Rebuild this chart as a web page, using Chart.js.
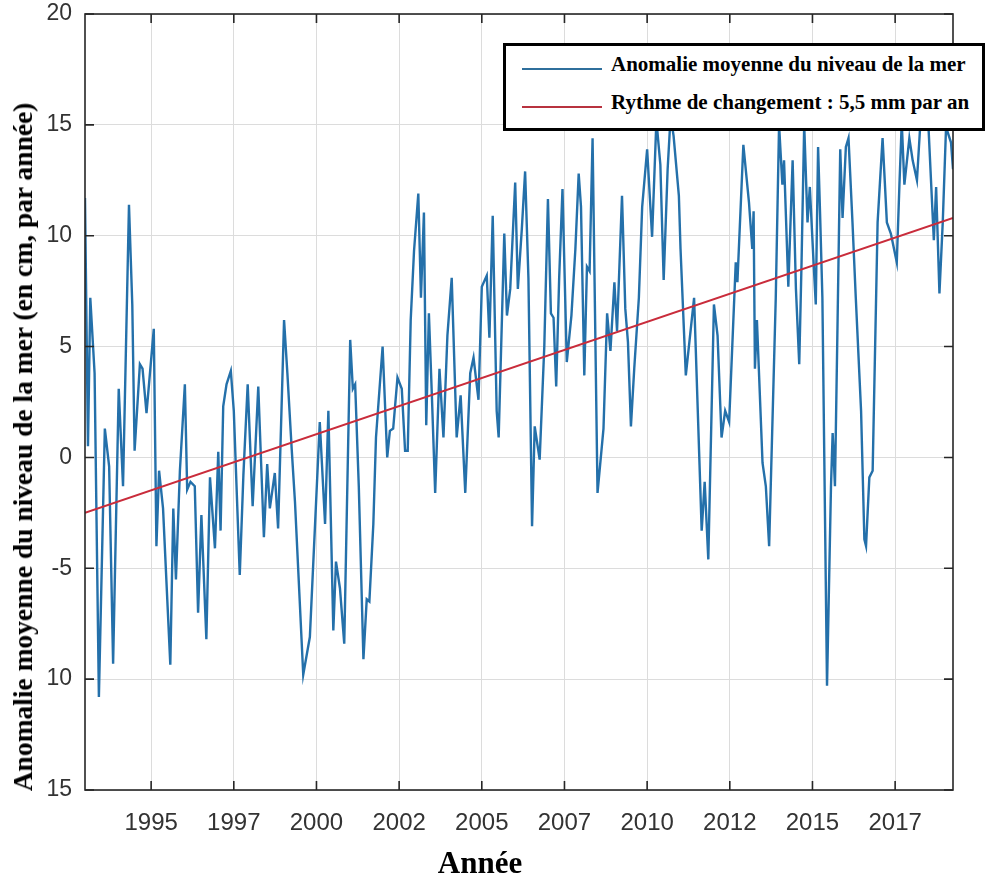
<!DOCTYPE html>
<html>
<head>
<meta charset="utf-8">
<script src="https://cdn.jsdelivr.net/npm/chart.js@4.4.1/dist/chart.umd.min.js"></script>
<style>
  body { margin: 0; background: #fff; }
  #wrap { position: relative; width: 988px; height: 880px; }
  canvas { position: absolute; left: 0; top: 0; }
  .serif { font-family: 'Liberation Serif', 'Times New Roman', serif; font-weight: bold; color: #000; white-space: nowrap; position: absolute; }
  #legendBox { position: absolute; left: 503px; top: 43px; width: 482px; height: 88px; border: 3px solid #000; background: #fff; box-sizing: border-box; }
  .sample { position: absolute; height: 2px; width: 80px; left: 522px; }
</style>
</head>
<body>
<div id="wrap">
  <canvas id="chart" width="988" height="880"></canvas>
  <div id="legendBox"></div>
  <div class="sample" style="top:68px; background:#2f6f9c;"></div>
  <div class="sample" style="top:106px; background:#b8323f;"></div>
  <div class="serif" id="leg1" style="left:611px; top:54px; font-size:21px; line-height:21px;">Anomalie moyenne du niveau de la mer</div>
  <div class="serif" id="leg2" style="left:611px; top:92px; font-size:21px; line-height:21px;">Rythme de changement : 5,5 mm par an</div>
  <div class="serif" id="ytitle" style="left:23px; top:447px; font-size:27.5px; line-height:30px; transform: translate(-50%, -50%) rotate(-90deg);">Anomalie moyenne du niveau de la mer (en cm, par année)</div>
  <div class="serif" id="xtitle" style="left:480px; top:847px; font-size:31px; line-height:31px; transform: translateX(-50%);">Année</div>
</div>
<script>
// values (year, cm)
const years = [
  1993.0, 1993.09, 1993.16, 1993.29, 1993.42, 1993.6, 1993.73, 1993.85, 1994.02, 1994.15,
  1994.33, 1994.43, 1994.5, 1994.66, 1994.74, 1994.86, 1995.08, 1995.16, 1995.24, 1995.36,
  1995.58, 1995.67, 1995.75, 1995.87, 1996.02, 1996.09, 1996.19, 1996.32, 1996.42, 1996.52,
  1996.67, 1996.78, 1996.93, 1997.03, 1997.1, 1997.18, 1997.28, 1997.41, 1997.5, 1997.68,
  1997.79, 1997.92, 1998.07, 1998.24, 1998.41, 1998.51, 1998.59, 1998.74, 1998.84, 1999.02,
  1999.12, 1999.25, 1999.35, 1999.6, 1999.8, 2000.1, 2000.26, 2000.36, 2000.51, 2000.59,
  2000.71, 2000.84, 2001.02, 2001.1, 2001.17, 2001.28, 2001.42, 2001.52, 2001.6, 2001.72,
  2001.8, 2002.0, 2002.14, 2002.22, 2002.32, 2002.45, 2002.58, 2002.68, 2002.76, 2002.85,
  2002.95, 2003.08, 2003.16, 2003.25, 2003.32, 2003.4, 2003.49, 2003.59, 2003.72, 2003.84,
  2003.96, 2004.09, 2004.24, 2004.36, 2004.5, 2004.65, 2004.75, 2004.9, 2005.0, 2005.15,
  2005.23, 2005.33, 2005.45, 2005.51, 2005.68, 2005.76, 2005.86, 2006.01, 2006.09, 2006.21,
  2006.31, 2006.41, 2006.52, 2006.6, 2006.75, 2006.89, 2007.0, 2007.09, 2007.17, 2007.25,
  2007.34, 2007.44, 2007.57, 2007.71, 2007.83, 2007.93, 2008.0, 2008.1, 2008.18, 2008.26,
  2008.35, 2008.5, 2008.68, 2008.79, 2008.89, 2009.01, 2009.09, 2009.24, 2009.34, 2009.42,
  2009.51, 2009.61, 2009.75, 2009.85, 2010.0, 2010.15, 2010.28, 2010.4, 2010.5, 2010.62,
  2010.71, 2010.8, 2010.96, 2011.01, 2011.17, 2011.42, 2011.65, 2011.74, 2011.85, 2012.02,
  2012.13, 2012.25, 2012.36, 2012.48, 2012.68, 2012.73, 2012.91, 2013.08, 2013.18, 2013.22,
  2013.26, 2013.32, 2013.49, 2013.59, 2013.69, 2013.89, 2013.99, 2014.09, 2014.14, 2014.27,
  2014.4, 2014.5, 2014.6, 2014.67, 2014.75, 2014.85, 2014.92, 2015.03, 2015.1, 2015.17,
  2015.23, 2015.3, 2015.44, 2015.56, 2015.61, 2015.68, 2015.76, 2015.84, 2015.91, 2016.01,
  2016.09, 2016.21, 2016.31, 2016.47, 2016.57, 2016.62, 2016.72, 2016.82, 2016.97, 2017.12,
  2017.25, 2017.37, 2017.55, 2017.63, 2017.7, 2017.78, 2017.93, 2018.03, 2018.16, 2018.28,
  2018.48, 2018.67, 2018.74, 2018.84, 2018.94, 2019.04, 2019.19, 2019.25
];
const anomaly = [
  11.7, 0.5, 7.2, 3.8, -10.8, 1.3, -0.4, -9.3, 3.1, -1.3,
  11.4, 6.9, 0.3, 4.2, 4.0, 2.0, 5.8, -4.0, -0.6, -2.3,
  -9.35, -2.3, -5.5, -0.6, 3.3, -1.45, -1.1, -1.3, -7.0, -2.6,
  -8.2, -0.9, -4.1, 0.25, -3.3, 2.3, 3.3, 3.9, 2.1, -5.3,
  -0.8, 3.3, -2.2, 3.2, -3.6, -0.3, -2.3, -0.7, -3.2, 6.2,
  3.8, 0.4, -2.0, -9.8, -8.1, 1.6, -3.0, 2.1, -7.8, -4.7,
  -5.9, -8.4, 5.3, 3.1, 3.3, -1.3, -9.1, -6.4, -6.5, -3.0,
  0.9, 5.0, 0.0, 1.2, 1.3, 3.6, 3.1, 0.3, 0.3, 6.2,
  9.3, 11.9, 7.2, 11.05, 1.45, 6.5, 2.8, -1.6, 4.0, 0.9,
  5.5, 8.1, 0.9, 2.8, -1.6, 3.8, 4.5, 2.6, 7.7, 8.2,
  5.4, 10.9, 2.1, 0.9, 10.1, 6.4, 7.6, 12.4, 7.6, 10.3,
  12.9, 8.1, -3.1, 1.4, -0.1, 5.0, 11.65, 6.5, 6.3, 3.2,
  8.1, 12.1, 4.3, 6.4, 9.4, 12.8, 11.3, 3.7, 8.6, 8.4,
  14.4, -1.6, 1.3, 6.5, 4.8, 7.9, 5.7, 11.8, 6.7, 5.2,
  1.4, 4.0, 7.2, 11.3, 13.9, 9.95, 15.2, 13.2, 8.0, 13.0,
  15.4, 14.5, 11.8, 9.4, 3.7, 7.2, -3.3, -1.1, -4.6, 6.9,
  5.5, 0.9, 2.1, 1.6, 8.8, 7.9, 14.1, 11.5, 9.4, 11.1,
  4.0, 6.2, -0.25, -1.3, -4.0, 7.2, 15.0, 12.3, 13.4, 7.7,
  13.4, 7.6, 4.2, 8.8, 15.0, 10.6, 12.2, 8.9, 6.9, 14.0,
  11.0, 7.2, -10.3, -1.3, 1.1, -1.3, 6.2, 13.9, 10.8, 14.0,
  14.4, 10.6, 7.2, 2.1, -3.7, -4.0, -0.9, -0.6, 10.6, 14.4,
  10.6, 10.1, 8.8, 12.3, 15.1, 12.3, 14.4, 13.4, 12.5, 15.5,
  15.8, 9.8, 12.2, 7.4, 10.6, 14.9, 14.2, 13.0
];
const trendYears = [1993.0, 2019.25];
const trendValues = [-2.5, 10.8];

const xTickValues = [1995, 1997.5, 2000, 2002.5, 2005, 2007.5, 2010, 2012.5, 2015, 2017.5];
const xTickLabels = ['1995', '1997', '2000', '2002', '2005', '2007', '2010', '2012', '2015', '2017'];
const yTickValues = [-15, -10, -5, 0, 5, 10, 15, 20];
const yTickLabels = ['15', '10', '-5', '0', '5', '10', '15', '20'];

const boxPlugin = {
  id: 'box',
  afterDraw(chart) {
    const { ctx, chartArea: a, scales } = chart;
    const len = 9;
    ctx.save();
    ctx.strokeStyle = '#262626';
    ctx.lineWidth = 1.6;
    ctx.strokeRect(a.left, a.top, a.right - a.left, a.bottom - a.top);
    ctx.beginPath();
    xTickValues.forEach(v => {
      const px = scales.x.getPixelForValue(v);
      ctx.moveTo(px, a.bottom); ctx.lineTo(px, a.bottom - len);
      ctx.moveTo(px, a.top); ctx.lineTo(px, a.top + len);
    });
    yTickValues.forEach(v => {
      const py = scales.y.getPixelForValue(v);
      ctx.moveTo(a.left, py); ctx.lineTo(a.left + len, py);
      ctx.moveTo(a.right, py); ctx.lineTo(a.right - len, py);
    });
    ctx.stroke();
    ctx.restore();
  }
};

new Chart(document.getElementById('chart'), {
  type: 'line',
  data: {
    datasets: [
      {
        label: 'Rythme de changement : 5,5 mm par an',
        data: trendYears.map((x, i) => ({ x, y: trendValues[i] })),
        borderColor: '#c92c3b',
        borderWidth: 2,
        pointRadius: 0,
        order: 0
      },
      {
        label: 'Anomalie moyenne du niveau de la mer',
        data: years.map((x, i) => ({ x, y: anomaly[i] })),
        borderColor: '#2470aa',
        borderWidth: 2.4,
        pointRadius: 0,
        tension: 0,
        order: 1
      }
    ]
  },
  options: {
    responsive: false,
    animation: false,
    layout: { padding: { left: 0, right: 35, top: 14, bottom: 0 } },
    plugins: { legend: { display: false }, tooltip: { enabled: false } },
    scales: {
      x: {
        type: 'linear',
        min: 1993,
        max: 2019.25,
        afterBuildTicks: s => { s.ticks = xTickValues.map(v => ({ value: v })); },
        afterFit: s => { s.height = 90; s.paddingLeft = 0; s.paddingRight = 0; },
        ticks: {
          autoSkip: false,
          maxRotation: 0,
          padding: 19,
          color: '#333',
          font: { family: "'Liberation Sans', Arial, sans-serif", size: 24 },
          callback: (v, i) => xTickLabels[i]
        },
        grid: { color: '#dcdcdc', drawTicks: false },
        border: { display: false }
      },
      y: {
        min: -15,
        max: 20,
        afterBuildTicks: s => { s.ticks = yTickValues.map(v => ({ value: v })); },
        afterFit: s => { s.width = 85; s.paddingTop = 0; s.paddingBottom = 0; },
        ticks: {
          padding: 13,
          color: '#333',
          font: { family: "'Liberation Sans', Arial, sans-serif", size: 23 },
          callback: (v, i) => yTickLabels[i]
        },
        grid: { color: '#dcdcdc', drawTicks: false },
        border: { display: false }
      }
    }
  },
  plugins: [boxPlugin]
});
</script>
</body>
</html>
